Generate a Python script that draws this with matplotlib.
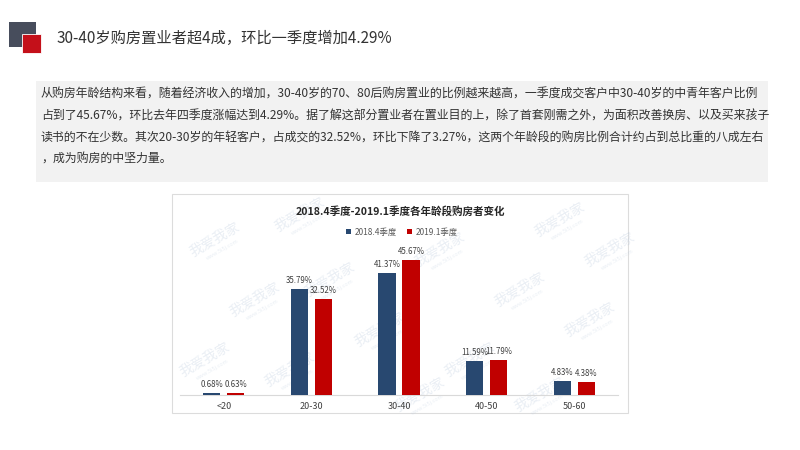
import numpy as np
import matplotlib
matplotlib.use('Agg')
from matplotlib import pyplot as plt
from matplotlib.patches import Rectangle

plt.rcParams['font.family'] = ['Noto Sans CJK SC', 'DejaVu Sans']

# data
categories = ['<20', '20-30', '30-40', '40-50', '50-60']
q2018_4 = [0.68, 35.79, 41.37, 11.59, 4.83]
q2019_1 = [0.63, 32.52, 45.67, 11.79, 4.38]
series_names = ['2018.4季度', '2019.1季度']

title = '30-40岁购房置业者超4成，环比一季度增加4.29%'
chart_title = '2018.4季度-2019.1季度各年龄段购房者变化'
para = ['从购房年龄结构来看，随着经济收入的增加，30-40岁的70、80后购房置业的比例越来越高，一季度成交客户中30-40岁的中青年客户比例',
        '占到了45.67%，环比去年四季度涨幅达到4.29%。据了解这部分置业者在置业目的上，除了首套刚需之外，为面积改善换房、以及买来孩子',
        '读书的不在少数。其次20-30岁的年轻客户，占成交的32.52%，环比下降了3.27%，这两个年龄段的购房比例合计约占到总比重的八成左右',
        '，成为购房的中坚力量。']

blue = '#284870'
red = '#c00000'

W, H = 800, 450
fig = plt.figure(figsize=(8, 4.5), dpi=100)
fig.patch.set_facecolor('white')

def px(x, y):
    return x / W, 1 - y / H

# header icon
fig.patches.append(Rectangle(px(9, 47), 27 / W, 25 / H, transform=fig.transFigure,
                             facecolor='#474d5c', edgecolor='none', zorder=-3))
fig.patches.append(Rectangle(px(22, 53), 19 / W, 19 / H, transform=fig.transFigure,
                             facecolor='#c4101a', edgecolor='white', linewidth=0.6, zorder=-2))
fig.text(*px(57, 38), title, fontsize=11, color='#333333', va='center', ha='left')

# grey text box
fig.patches.append(Rectangle(px(36, 182), 732 / W, 101 / H, transform=fig.transFigure,
                             facecolor='#f2f2f2', edgecolor='none', zorder=-3))
line_y = [94, 116, 138, 159]
for t, yy in zip(para, line_y):
    fig.text(*px(41, yy), t, fontsize=8.6, color='#333333', va='center', ha='left')

# chart frame
fig.patches.append(Rectangle(px(172, 413), 456 / W, 219 / H, transform=fig.transFigure,
                             facecolor='white', edgecolor='#dcdcdc', linewidth=0.8, zorder=-3))

# watermark
wm_pos = [(215, 240), (300, 215), (255, 300), (330, 280), (205, 360), (290, 370),
          (380, 330), (440, 250), (470, 360), (520, 290), (560, 220), (590, 320),
          (420, 395), (540, 395), (610, 250)]
for (wx, wy) in wm_pos:
    fig.text(*px(wx, wy), '我爱我家', fontsize=10, color='#b8c8dc', alpha=0.3,
             rotation=30, ha='center', va='center', zorder=-1)
    fig.text(*px(wx + 8, wy + 10), 'www.5i5j.com', fontsize=4, color='#b8c8dc', alpha=0.3,
             rotation=30, ha='center', va='center', zorder=-1)

fig.text(*px(400, 211), chart_title, fontsize=7.6, fontweight='bold', color='#262626',
         ha='center', va='center')

# axes
ax = fig.add_axes([180 / W, 1 - 395 / H, 438 / W, 150 / H])
ax.patch.set_alpha(0)
x = np.arange(len(categories))
w = 0.195
off = 0.137
b1 = ax.bar(x - off, q2018_4, w, color=blue, label=series_names[0], zorder=3)
b2 = ax.bar(x + off, q2019_1, w, color=red, label=series_names[1], zorder=3)
ax.set_xlim(-0.5, len(categories) - 0.5)
ax.set_ylim(0, 150 / 2.95)
for bars, vals in ((b1, q2018_4), (b2, q2019_1)):
    for r, v in zip(bars, vals):
        ax.annotate('{0:.2f}%'.format(v), (r.get_x() + r.get_width() / 2, v),
                    xytext=(0, 3), textcoords='offset points', ha='center', va='bottom',
                    fontsize=5.7, color='#404040')
ax.set_xticks(x)
ax.set_xticklabels(categories, fontsize=6.5, color='#404040')
ax.tick_params(axis='x', length=0, pad=5)
ax.set_yticks([])
for s in ['top', 'right', 'left']:
    ax.spines[s].set_visible(False)
ax.spines['bottom'].set_color('#d9d9d9')
ax.spines['bottom'].set_linewidth(0.8)

leg = fig.legend(handles=[b1, b2], labels=series_names, loc='center',
                 bbox_to_anchor=px(402, 232), ncol=2, frameon=False, fontsize=6,
                 handlelength=0.6, handleheight=0.6, handletextpad=0.4, columnspacing=1.2)
for t in leg.get_texts():
    t.set_color('#595959')

fig.savefig('out.png', dpi=100)
